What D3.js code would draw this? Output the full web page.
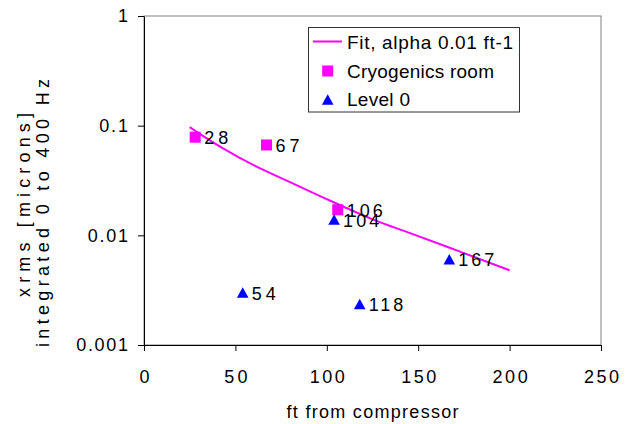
<!DOCTYPE html>
<html><head><meta charset="utf-8">
<script src="https://cdn.jsdelivr.net/npm/d3@7"></script>
<style>
body{margin:0;background:#fff}
text{font-family:Arial,"Liberation Sans",sans-serif;fill:#000}
</style>
</head><body>
<svg id="chart" width="625" height="424"></svg>
<script>
// ---- data ----
const xTicks = [0, 50, 100, 150, 200, 250];
const xTickLabels = ["0", "50", "100", "150", "200", "250"];
const yTicks = [1, 0.1, 0.01, 0.001];
const yTickLabels = ["1", "0.1", "0.01", "0.001"];

const fitX = [25, 42, 61, 77, 105, 129, 140, 171, 200];
const fitY = [0.097, 0.063, 0.0423, 0.0322, 0.0195, 0.013, 0.0114, 0.0073, 0.0048];

const cryoX = [28, 67, 106];
const cryoY = [0.0785, 0.0667, 0.0171];
const cryoLabels = ["28", "67", "106"];

const levelX = [54, 104, 118, 167];
const levelY = [0.00301, 0.0139, 0.00236, 0.00605];
const levelLabels = ["54", "104", "118", "167"];

const seriesNames = ["Fit, alpha 0.01 ft-1", "Cryogenics room", "Level 0"];
const xTitle = "ft from compressor";
const yTitleLines = ["xrms [microns]", "integrated 0 to 400 Hz"];

// ---- layout ----
const W = 625, H = 424;
const L = 144, T = 16, R = 601, B = 345;
const magenta = "#FF00FF", blue = "#0000FF";

const svg = d3.select("#chart");
svg.append("rect").attr("width", W).attr("height", H).attr("fill", "#fff");

const x = d3.scaleLinear().domain([0, 250]).range([L, R]);
const y = d3.scaleLog().domain([0.001, 1]).range([B, T]);

function stretch(sel, f) {
  sel.each(function () {
    const n = this.getComputedTextLength();
    d3.select(this).attr("textLength", n * f).attr("lengthAdjust", "spacing");
  });
}

// plot frame (grey)
svg.append("rect").attr("x", L).attr("y", T).attr("width", R - L).attr("height", B - T)
  .attr("fill", "none").attr("stroke", "#808080").attr("stroke-width", 1);

// axes
const gx = svg.append("g").attr("transform", `translate(0,${B})`)
  .call(d3.axisBottom(x).tickValues(xTicks).tickFormat((d, i) => xTickLabels[i])
    .tickSize(6).tickSizeOuter(0).tickPadding(19));
const gy = svg.append("g").attr("transform", `translate(${L},0)`)
  .call(d3.axisLeft(y).tickValues(yTicks).tickFormat((d, i) => yTickLabels[i])
    .tickSize(6).tickSizeOuter(0).tickPadding(10));
[gx, gy].forEach(g => {
  g.select(".domain").attr("stroke", "#000");
  g.selectAll(".tick line").attr("stroke", "#000");
  g.selectAll(".tick text").attr("font-size", 18).attr("font-family", "Arial, 'Liberation Sans', sans-serif").attr("fill", "#000");
});
stretch(gx.selectAll(".tick text"), 1.17);
stretch(gy.selectAll(".tick text"), 1.15);

// fit line
const line = d3.line().x((d, i) => x(fitX[i])).y((d, i) => y(fitY[i])).curve(d3.curveBasis);
svg.append("path").datum(fitX).attr("d", line).attr("fill", "none")
  .attr("stroke", magenta).attr("stroke-width", 2);

// markers
const sq = 11;
const cryo = cryoX.map((v, i) => ({ x: v, y: cryoY[i], lab: cryoLabels[i] }));
const lvl = levelX.map((v, i) => ({ x: v, y: levelY[i], lab: levelLabels[i] }));

svg.append("g").selectAll("rect").data(cryo).join("rect")
  .attr("x", d => x(d.x) - sq / 2).attr("y", d => y(d.y) - sq / 2)
  .attr("width", sq).attr("height", sq).attr("fill", magenta);

const tri = (cx, cy) => `M${cx},${cy - 5.3}L${cx + 5.8},${cy + 5.2}L${cx - 5.8},${cy + 5.2}Z`;
svg.append("g").selectAll("path").data(lvl).join("path")
  .attr("d", d => tri(x(d.x), y(d.y))).attr("fill", blue);

// data labels
const labs = svg.append("g").selectAll("text").data(cryo.concat(lvl)).join("text")
  .attr("x", d => x(d.x) + 9).attr("y", d => y(d.y) + 7)
  .attr("font-size", 18).text(d => d.lab);
stretch(labs, 1.2);

// axis titles
svg.append("text").attr("x", (L + R) / 2).attr("y", 418).attr("text-anchor", "middle")
  .attr("font-size", 18).attr("textLength", 172).attr("lengthAdjust", "spacing").text(xTitle);

const ytPos = [{ cx: 30, cy: 205, len: 184 }, { cx: 49, cy: 213, len: 268 }];
yTitleLines.forEach((t, i) => {
  svg.append("text").attr("transform", `translate(${ytPos[i].cx},${ytPos[i].cy}) rotate(-90)`)
    .attr("text-anchor", "middle").attr("font-size", 18)
    .attr("textLength", ytPos[i].len).attr("lengthAdjust", "spacing").text(t);
});

// legend
const lg = svg.append("g");
lg.append("rect").attr("x", 308.5).attr("y", 27.5).attr("width", 211).attr("height", 84.5)
  .attr("fill", "#fff").attr("stroke", "#333").attr("stroke-width", 1);
lg.append("line").attr("x1", 313).attr("x2", 342).attr("y1", 41.5).attr("y2", 41.5)
  .attr("stroke", magenta).attr("stroke-width", 2);
lg.append("rect").attr("x", 327.7 - sq / 2).attr("y", 71 - sq / 2).attr("width", sq).attr("height", sq).attr("fill", magenta);
lg.append("path").attr("d", tri(327.7, 99.5)).attr("fill", blue);
const legW = [166, 147, 63];
const legY = [49, 77.5, 106];
seriesNames.forEach((s, i) => {
  lg.append("text").attr("x", 347).attr("y", legY[i]).attr("font-size", 19)
    .attr("textLength", legW[i]).attr("lengthAdjust", "spacing").text(s);
});
</script>
</body></html>
